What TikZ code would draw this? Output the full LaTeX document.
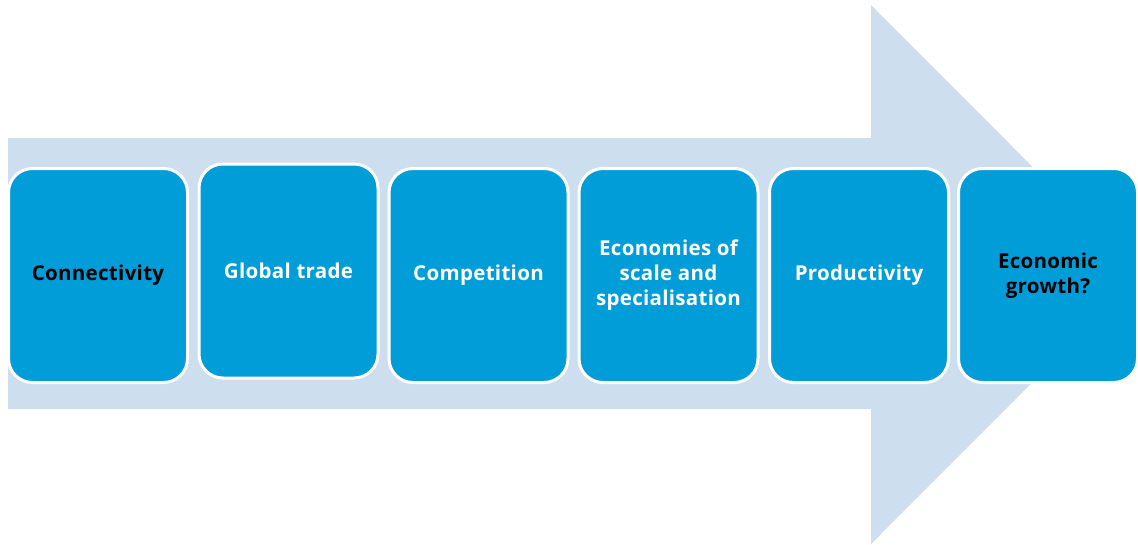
\documentclass[tikz,border=0pt]{standalone}
\usepackage{fontspec}
\setmainfont{Open Sans}[LetterSpace=1.5]
\definecolor{stepblue}{RGB}{0,157,217}
\definecolor{arrowpale}{RGB}{205,222,238}
\begin{document}
\begin{tikzpicture}[x=1pt,y=-1pt,
  stepbox/.style={draw=white, line width=3pt, fill=stepblue, rounded corners=24pt,
    minimum width=179pt, minimum height=214pt, inner sep=0pt, align=center,
    font=\bfseries\fontsize{20.5}{25}\selectfont},
  darktext/.style={text=black},
  lighttext/.style={text=white}]
\useasboundingbox (0,0) rectangle (1138,544);
% the large pale arrow behind the steps
\fill[arrowpale] (8,138) -- (871,138) -- (871,5) -- (1140,274.5) -- (871,544)
  -- (871,409) -- (8,409) -- cycle;
% the six steps
\node[stepbox, darktext]  (s1) at (98,275.5)   {Connectivity};
\node[stepbox, lighttext] (s2) at (288.5,271)  {Global trade};
\node[stepbox, lighttext] (s3) at (478.5,275.5){Competition};
\node[stepbox, lighttext] (s4) at (668.5,275.5){Economies of\\scale and\\specialisation};
\node[stepbox, lighttext] (s5) at (859,275.5)  {Productivity};
\node[stepbox, darktext]  (s6) at (1048,275.5) {Economic\\growth?};
\end{tikzpicture}
\end{document}
